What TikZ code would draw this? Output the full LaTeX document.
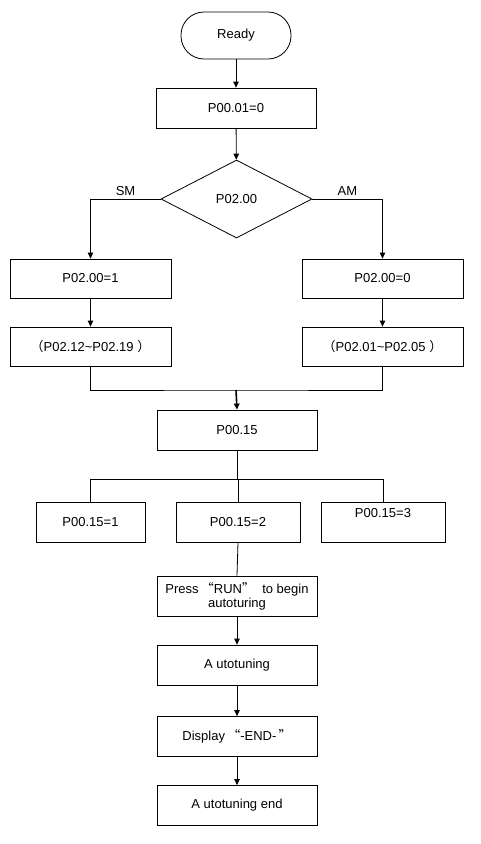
\documentclass[tikz,border=0pt]{standalone}
\usepackage{fontspec}
\setmainfont{Liberation Sans}
\newfontfamily\cjk{Noto Sans CJK SC}
\usepackage{tikz}
\usetikzlibrary{arrows.meta,shapes.geometric}

\begin{document}
\begin{tikzpicture}[x=1pt, y=-1pt,
		every node/.style={font=\fontsize{13}{16}\selectfont},
		box/.style={draw, line width=0.8pt, inner sep=0pt, minimum height=40pt, minimum width=161pt, align=center},
		smallbox/.style={box, minimum width=124pt},
		term/.style={box, minimum width=110pt, minimum height=47pt, rounded corners=23pt},
		decision/.style={draw, line width=0.8pt, diamond, inner sep=0pt, minimum width=151pt, minimum height=78pt},
		line/.style={line width=0.8pt},
		arrow/.style={line, -{Triangle[length=6pt,width=5.5pt]}}
	]
		\useasboundingbox (0,0) rectangle (481,844);
		% main column
		\node[term] (ready) at (236,35.5) {Ready};
		\node[box, minimum width=160pt] (p01) at (236,108) {P00.01=0};
		\node[decision] (mode) at (236.5,199) {P02.00};
		\node[box, minimum height=39pt] (sm) at (90.5,278.5) {P02.00=1};
		\node[box, minimum height=39pt] (am) at (382.5,278.5) {P02.00=0};
		\node[box, minimum height=39pt] (smpar) at (90.5,346.5) {{\cjk （}P02.12\textasciitilde P02.19 {\cjk ）}};
		\node[box, minimum height=39pt] (ampar) at (382.5,346.5) {{\cjk （}P02.01\textasciitilde P02.05 {\cjk ）}};
		\node[box, minimum width=160pt] (p15) at (237,430) {P00.15};
		% three options
		\node[smallbox, minimum width=109pt] (opt1) at (90.5,522) {P00.15=1};
		\node[smallbox] (opt2) at (238,522) {P00.15=2};
		\node[smallbox] (opt3) at (383,522) {};
		\node (opt3txt) at ([yshift=9pt]opt3.center) {P00.15=3};
		% autotuning
		\node[box, minimum width=160pt] (press) at (237,596) {Press\,{\cjk “}RUN{\cjk ”}\ \ to begin\\[-2pt] autoturing};
		\node[box, minimum width=160pt] (tune) at (237,665) {A utotuning};
		\node[box, minimum width=160pt] (disp) at (237,736.5) {Display\,{\cjk “}-END-\,{\cjk ”}};
		\node[box, minimum width=160pt] (tend) at (237,805.5) {A utotuning end};
		\coordinate (merge) at (236,390);
		\coordinate (split) at (238,479.5);

		\path[arrow]
		(ready) edge (p01)
		(p01) edge (mode)
		(sm) edge (smpar)
		(am) edge (ampar)
		(press) edge (tune)
		(tune) edge (disp)
		(disp) edge (tend)
		;
		\draw[arrow] (mode.west) -| node[above, pos=0.25] {SM} (sm.north);
		\draw[arrow] (mode.east) -| node[above, pos=0.25] {AM} (am.north);
		\draw[line] (smpar.south) |- (merge) -| (ampar.south);
		\draw[arrow, line width=1.6pt] (merge) -- (p15.north);
		\draw[line] (p15.south) |- (split) -- (opt2.north);
		\draw[line] (opt1.north) |- (split) -| (opt3.north);
		\draw[line] (opt2.south) -- (press.north);
\end{tikzpicture}
\end{document}
